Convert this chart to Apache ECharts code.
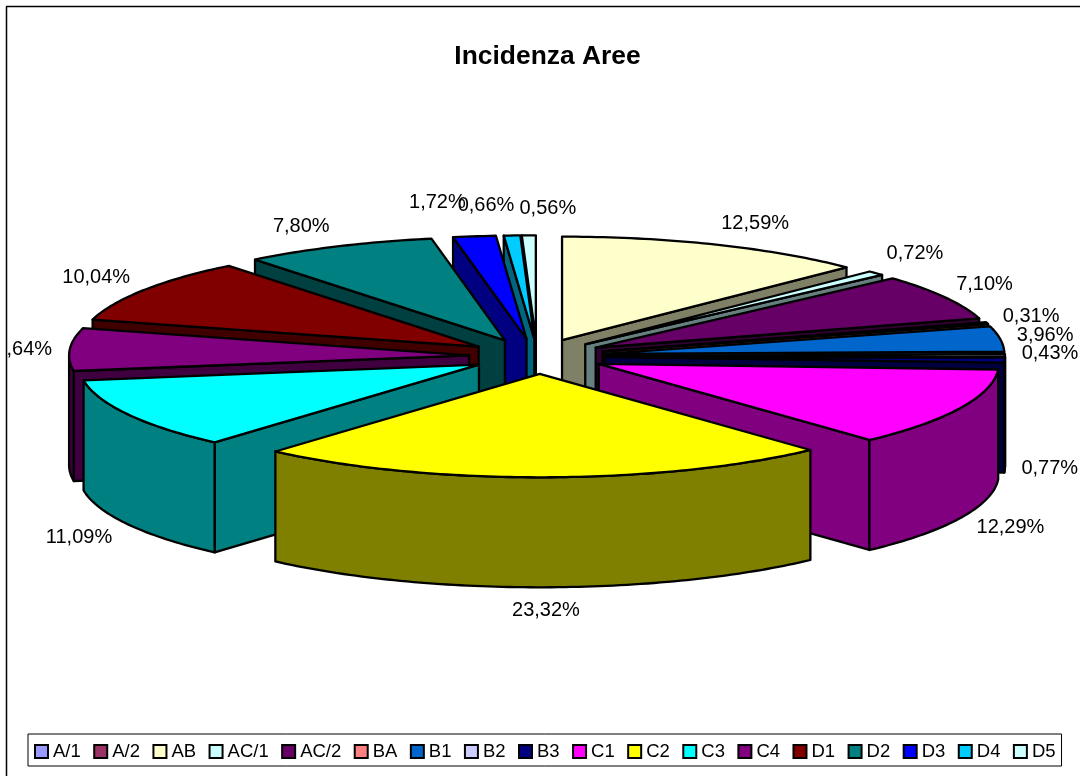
<!DOCTYPE html>
<html>
<head>
<meta charset="utf-8">
<style>html,body{margin:0;padding:0;background:#fff}#c{width:1080px;height:776px}</style>
<script src="https://cdn.jsdelivr.net/npm/echarts@6/dist/echarts.min.js"></script>
</head>
<body>
<div id="c"></div>
<script>
const categories = ['A/1','A/2','AB','AC/1','AC/2','BA','B1','B2','B3','C1','C2','C3','C4','D1','D2','D3','D4','D5'];
const values = [0,0,12.59,0.72,7.10,0.31,3.96,0.43,0.77,12.29,23.32,11.09,6.64,10.04,7.80,1.72,0.66,0.56];
const topColors = ['#9999FF','#993366','#FFFFCC','#CCFFFF','#660066','#FF8080','#0066CC','#CCCCFF','#000080','#FF00FF','#FFFF00','#00FFFF','#800080','#800000','#008080','#0000FF','#00CCFF','#CCFFFF'];
const sideColors = ['#4D4D80','#4D1A33','#808066','#668080','#330033','#804040','#003366','#666680','#000040','#800080','#808000','#008080','#400040','#400000','#004040','#000080','#006680','#668080'];
// nudge of each percentage label away from the mid-point of its slice's rim
const labelNudgeX = [0,0,40,41,43,48,49,49,49,54,5,-49,-48,-51,-41,-38,-24,20];
const labelNudgeY = [0,0,-21,-20,-13,-7,-3,-2,108,119,133,123,0,-12,-20,-34,-30,-27];
// small sideways correction of each exploded slice
const sliceNudgeX = [0,0,1,2,3,4,4,4,4,4,3,0,-2,-3,-4,-1,2,1];

const CX = 536, CY = 356.3, RX = 400, RY = 103.5, EX = 65, EY = 17.5, DEPTH = 110;
const FONT = '"Liberation Sans", Arial, sans-serif';
const total = values.reduce((a, b) => a + b, 0);
const rad = d => d * Math.PI / 180;

let cum = 0;
const slices = values.map((v, i) => {
  const a = cum / total * 360;
  cum += v;
  const b = cum / total * 360;
  return { i, v, a, b, mid: (a + b) / 2 };
});

function baseTip(s) {
  return [CX + EX * Math.sin(rad(s.mid)), CY - EY * Math.cos(rad(s.mid))];
}
function tipOf(s) {
  const t = baseTip(s);
  return [t[0] + sliceNudgeX[s.i], t[1]];
}
function rimPoint(t, deg, dy) {
  return [t[0] + RX * Math.sin(rad(deg)), t[1] - RY * Math.cos(rad(deg)) + (dy || 0)];
}
function arc(t, from, to, dy) {
  const n = Math.max(1, Math.ceil(to - from));
  const pts = [];
  for (let k = 0; k <= n; k++) pts.push(rimPoint(t, from + (to - from) * k / n, dy));
  return pts;
}
function poly(points, fill) {
  return { type: 'polygon', shape: { points }, style: { fill, stroke: '#000', lineWidth: 2.3, lineJoin: 'round' } };
}
function wall(t, deg, fill) {
  const p = rimPoint(t, deg);
  return poly([t, p, [p[0], p[1] + DEPTH], [t[0], t[1] + DEPTH]], fill);
}

function sliceRenderer(s) {
  return function () {
    if (!s.v) return null;
    const t = tipOf(s), side = sideColors[s.i], children = [];
    if (s.a > 180) children.push(wall(t, s.a, side));
    if (s.b < 180) children.push(wall(t, s.b, side));
    const from = Math.max(s.a, 90), to = Math.min(s.b, 270);
    if (to > from) {
      const up = arc(t, from, to, 0), down = arc(t, from, to, DEPTH).reverse();
      children.push(poly(up.concat(down), side));
    }
    children.push(poly([t].concat(arc(t, s.a, s.b, 0)), topColors[s.i]));
    return { type: 'group', children };
  };
}

function labelRenderer() {
  const children = [];
  slices.forEach(s => {
    if (!s.v) return;
    const p = rimPoint(baseTip(s), s.mid);
    children.push({
      type: 'text',
      x: p[0] + labelNudgeX[s.i],
      y: p[1] + labelNudgeY[s.i],
      style: {
        text: s.v.toFixed(2).replace('.', ',') + '%',
        font: '20px ' + FONT,
        fill: '#000',
        align: 'center',
        verticalAlign: 'middle'
      }
    });
  });
  return { type: 'group', children, clipPath: { type: 'rect', shape: { x: 8, y: 0, width: 1072, height: 776 } } };
}

const order = slices.slice().sort((p, q) => Math.cos(rad(q.mid)) - Math.cos(rad(p.mid)));
const series = order.map((s, k) => ({
  type: 'custom',
  name: categories[s.i],
  coordinateSystem: 'none',
  silent: true,
  z: 2 + k,
  itemStyle: { color: topColors[s.i] },
  data: [[s.a, s.b]],
  renderItem: sliceRenderer(s)
}));
series.push({
  type: 'custom',
  name: 'labels',
  coordinateSystem: 'none',
  silent: true,
  z: 60,
  data: [[0]],
  renderItem: labelRenderer
});

const chart = echarts.init(document.getElementById('c'), null, { renderer: 'canvas' });
chart.setOption({
  animation: false,
  backgroundColor: '#fff',
  title: {
    text: 'Incidenza Aree',
    left: 542.5, top: 39, textAlign: 'center',
    textStyle: { fontFamily: FONT, fontSize: 26.4, fontWeight: 'bold', color: '#000' }
  },
  legend: {
    left: 28, top: 734,
    width: 1030,
    orient: 'horizontal',
    padding: [8, 6, 5, 6],
    itemWidth: 13, itemHeight: 13, itemGap: 12.45,
    backgroundColor: '#fff',
    borderColor: '#000', borderWidth: 1,
    selectedMode: false,
    icon: 'rect',
    textStyle: { fontFamily: FONT, fontSize: 18.5, color: '#000' },
    data: categories.map((name, i) => ({
      name,
      itemStyle: { color: topColors[i], borderColor: '#000', borderWidth: 2 }
    }))
  },
  graphic: [
    { type: 'line', z: 70, shape: { x1: 6.5, y1: 6.5, x2: 6.5, y2: 776 }, style: { stroke: '#000', lineWidth: 1.5 } },
    { type: 'line', z: 70, shape: { x1: 6, y1: 6.5, x2: 1080, y2: 6.5 }, style: { stroke: '#000', lineWidth: 1.5 } }
  ],
  series
});
</script>
</body>
</html>
